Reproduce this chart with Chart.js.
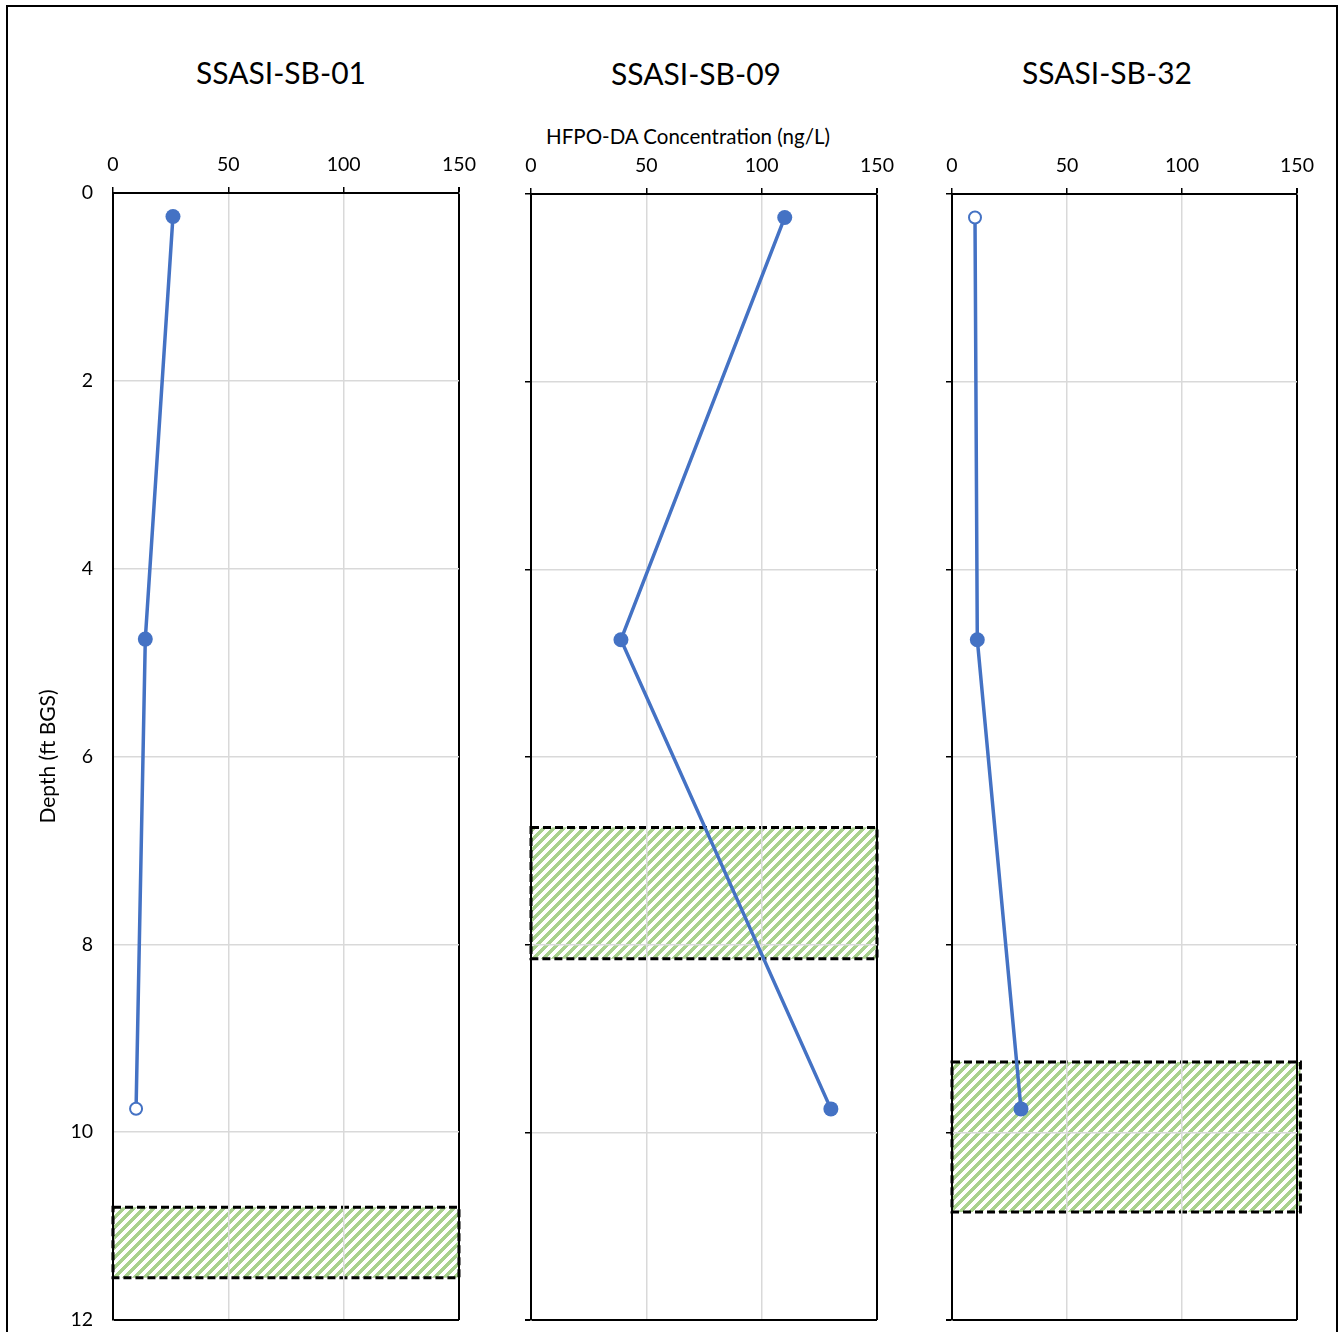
<!DOCTYPE html>
<html><head><meta charset="utf-8">
<script src="https://cdn.jsdelivr.net/npm/chart.js@4.4.1/dist/chart.umd.min.js"></script>
<style>
html,body{margin:0;padding:0;background:#fff;width:1343px;height:1332px;overflow:hidden;font-family:Lato,'Open Sans',sans-serif;}
#frame{position:absolute;left:6px;top:5px;width:1332px;height:1345px;border:2.5px solid #000;box-sizing:border-box}
canvas{position:absolute;top:0}
.t{position:absolute;font-size:30px;color:#000;transform:translate(-50%,-50%);white-space:nowrap;line-height:1}
.ax{position:absolute;font-size:20.5px;color:#000;transform:translate(-50%,-50%);white-space:nowrap;line-height:1}
</style></head><body>
<div id="frame"></div>
<div class="t" style="left:281px;top:72px">SSASI-SB-01</div>
<div class="t" style="left:696px;top:73px">SSASI-SB-09</div>
<div class="t" style="left:1107px;top:72px">SSASI-SB-32</div>
<div class="ax" style="left:688px;top:136px">HFPO-DA Concentration (ng/L)</div>
<canvas id="c1" width="480" height="1332" style="left:0px"></canvas>
<canvas id="c2" width="420" height="1332" style="left:480px"></canvas>
<canvas id="c3" width="443" height="1332" style="left:900px"></canvas>
<script>
// ---- data ----
const xTickValues = [0, 50, 100, 150];
const yTickValues = [0, 2, 4, 6, 8, 10, 12];

const depth01 = [0.25, 4.75, 9.75];
const conc01 = [26, 14, 10];
const detected01 = [true, true, false];
const box01 = [10.8, 11.55];
const boxX01 = [0, 150];

const depth09 = [0.25, 4.75, 9.75];
const conc09 = [110, 39, 130];
const detected09 = [true, true, true];
const box09 = [6.75, 8.15];
const boxX09 = [0, 150];

const depth32 = [0.25, 4.75, 9.75];
const conc32 = [10, 11, 30];
const detected32 = [false, true, true];
const box32 = [9.25, 10.85];
const boxX32 = [0, 151.5];

// ---- styling ----
const BLUE = '#4472C4';
const GRID = '#D9D9D9';
const FONT = 'Lato';

function tileCanvas() {
  const s = 10, w = 5;
  const c = document.createElement('canvas');
  c.width = s; c.height = s;
  const g = c.getContext('2d');
  g.fillStyle = '#A9D18E';
  for (let r = 0; r < s; r++) {
    for (let k = 0; k < w; k++) {
      const col = ((s - 1 - r + k) % s + s) % s;
      g.fillRect(col, r, 1, 1);
    }
  }
  return c;
}
const TILE = tileCanvas();

const boxPlugin = {
  id: 'depthBox',
  beforeDraw(chart, args, opts) {
    const {ctx, scales: {x, y}} = chart;
    const x0 = x.getPixelForValue(opts.xr[0]);
    const x1 = x.getPixelForValue(opts.xr[1]);
    const y0 = y.getPixelForValue(opts.yr[0]);
    const y1 = y.getPixelForValue(opts.yr[1]);
    ctx.save();
    ctx.fillStyle = ctx.createPattern(opts.tile, 'repeat');
    ctx.fillRect(x0, y0, x1 - x0, y1 - y0);
    ctx.setLineDash([8, 4]);
    ctx.lineWidth = 3;
    ctx.strokeStyle = '#000';
    ctx.strokeRect(x0, y0, x1 - x0, y1 - y0);
    ctx.restore();
  }
};

function makeChart(id, conc, depth, detected, boxY, boxX, cfg) {
  const pts = conc.map((v, i) => ({x: v, y: depth[i]}));
  return new Chart(document.getElementById(id), {
    type: 'scatter',
    data: {
      datasets: [{
        data: pts,
        showLine: true,
        borderColor: BLUE,
        borderWidth: 3.5,
        pointRadius: detected.map(d => d ? 7.5 : 6),
        pointBackgroundColor: detected.map(d => d ? BLUE : '#fff'),
        pointBorderColor: BLUE,
        pointBorderWidth: detected.map(d => d ? 0 : 2),
        pointHoverRadius: detected.map(d => d ? 7.5 : 6)
      }]
    },
    options: {
      responsive: false,
      animation: false,
      events: [],
      layout: {padding: {left: 0, top: 0, right: cfg.padRight, bottom: cfg.padBottom}},
      plugins: {
        legend: {display: false},
        tooltip: {enabled: false},
        depthBox: {xr: boxX, yr: boxY, tile: TILE}
      },
      scales: {
        x: {
          type: 'linear', position: 'top', min: 0, max: 150,
          afterBuildTicks: s => { s.ticks = xTickValues.map(v => ({value: v})); },
          afterFit: s => { s.height = cfg.top; s.paddingLeft = 0; s.paddingRight = 0; },
          ticks: {color: '#000', font: {family: FONT, size: 19.5}, padding: 11, maxRotation: 0},
          grid: {
            color: c => (c.tick && c.tick.value === 150) ? '#000' : GRID,
            lineWidth: c => (c.tick && c.tick.value === 150) ? 2 : 1.5,
            tickColor: '#000', tickLength: 6, drawTicks: true
          },
          border: {display: true, color: '#000', width: 2}
        },
        y: {
          type: 'linear', position: 'left', min: 0, max: 12, reverse: true,
          afterBuildTicks: s => { s.ticks = yTickValues.map(v => ({value: v})); },
          afterFit: s => { s.width = cfg.left; s.paddingTop = 0; s.paddingBottom = 0; },
          ticks: {display: cfg.yLabels, color: '#000', font: {family: FONT, size: 19.5}, padding: 20},
          title: cfg.yLabels ? {display: true, text: 'Depth (ft BGS)', color: '#000',
                  font: {family: FONT, size: 21}, padding: {top: 36, bottom: 0}} : {display: false},
          grid: {
            color: c => (c.tick && c.tick.value === 12) ? '#000' : GRID,
            lineWidth: c => (c.tick && c.tick.value === 12) ? 2 : 1.5,
            tickColor: '#000', tickLength: 6, drawTicks: !cfg.yLabels
          },
          border: {display: true, color: '#000', width: 2}
        }
      }
    },
    plugins: [boxPlugin]
  });
}

makeChart('c1', conc01, depth01, detected01, box01, boxX01, {left: 113, padRight: 21, top: 193, padBottom: 12, yLabels: true});
makeChart('c2', conc09, depth09, detected09, box09, boxX09, {left: 51, padRight: 23, top: 194, padBottom: 12, yLabels: false});
makeChart('c3', conc32, depth32, detected32, box32, boxX32, {left: 52, padRight: 46, top: 194, padBottom: 12, yLabels: false});
</script>
</body></html>
